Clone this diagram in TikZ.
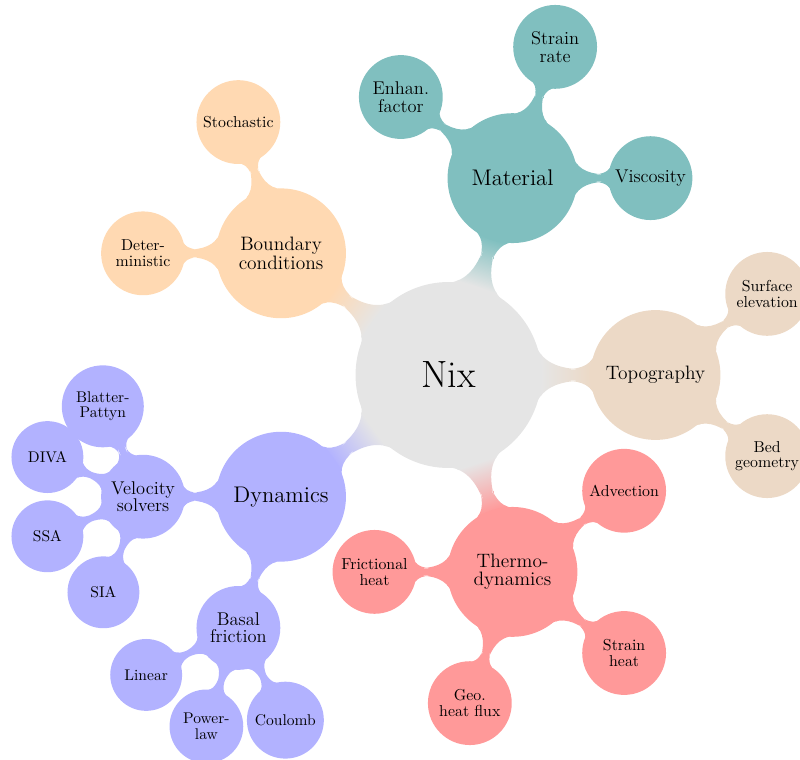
\documentclass[tikz,border=0pt]{standalone}
\usepackage{tikz}
\usetikzlibrary{mindmap,calc,backgrounds}

\tikzset{
    nixconcept/.style={concept, text width={}, inner sep=1pt, align=center},
    nixroot/.style={nixconcept, minimum size=4cm, font=\fontsize{23.5}{26}\selectfont},
    topic/.style={nixconcept, minimum size=2.78cm, font=\fontsize{12}{11.5}\selectfont},
    bigtopic/.style={topic, font=\fontsize{14}{16}\selectfont},
    subtopic/.style={nixconcept, minimum size=1.78cm, font=\fontsize{9.8}{9.8}\selectfont},
    bigsub/.style={subtopic, font=\fontsize{11.4}{10.8}\selectfont},
    leaf/.style={nixconcept, minimum size=1.52cm, font=\fontsize{9.6}{9.4}\selectfont},
    conbar/.style 2 args={circle connection bar switch color=from (#1) to (#2)}
}

\begin{document}
\begin{tikzpicture}[mindmap]
    \useasboundingbox (-9.75,-8.348) rectangle (7.641,8.152);

    % Root and first level
    \node[concept color=gray!20, nixroot] (nix) at (0,0) {Nix};
    \node[concept color=teal!50, bigtopic] (material) at (72:4.5) {Material};
    \node[concept color=brown!30, topic] (topo) at (0:4.5) {Topography};
    \node[concept color=red!40, topic] (thermo) at (-72:4.5) {Thermo-\\dynamics};
    \node[concept color=blue!30, bigtopic] (dynamics) at (-144:4.5) {Dynamics};
    \node[concept color=orange!30, topic] (boundary) at (144:4.5) {Boundary\\conditions};

    % Material
    \node[concept color=teal!50, bigsub] (strainrate) at ($(material)+(72:3)$) {Strain\\rate};
    \node[concept color=teal!50, bigsub] (viscosity) at ($(material)+(0:3)$) {Viscosity};
    \node[concept color=teal!50, bigsub] (enhfactor) at ($(material)+(144:3)$) {Enhan.\\factor};

    % Topography
    \node[concept color=brown!30, subtopic] (surfelev) at ($(topo)+(36:3)$) {Surface\\elevation};
    \node[concept color=brown!30, subtopic] (bedgeom) at ($(topo)+(-36:3)$) {Bed\\geometry};

    % Thermodynamics
    \node[concept color=red!40, subtopic] (advection) at ($(thermo)+(36:3)$) {Advection};
    \node[concept color=red!40, subtopic] (strainheat) at ($(thermo)+(-36:3)$) {Strain\\heat};
    \node[concept color=red!40, subtopic] (geoflux) at ($(thermo)+(-108:3)$) {Geo.\\heat flux};
    \node[concept color=red!40, subtopic] (frictheat) at ($(thermo)+(180:3)$) {Frictional\\heat};

    % Dynamics
    \node[concept color=blue!30, bigsub] (velsolvers) at ($(dynamics)+(180:3)$) {Velocity\\solvers};
    \node[concept color=blue!30, bigsub] (basal) at ($(dynamics)+(252:3)$) {Basal\\friction};
    \node[concept color=blue!30, leaf, minimum size=1.74cm] (blatter) at ($(velsolvers)+(114:2.15)$) {Blatter-\\Pattyn};
    \node[concept color=blue!30, leaf] (diva) at ($(velsolvers)+(157.5:2.25)$) {DIVA};
    \node[concept color=blue!30, leaf] (ssa) at ($(velsolvers)+(202.5:2.25)$) {SSA};
    \node[concept color=blue!30, leaf] (sia) at ($(velsolvers)+(247.5:2.25)$) {SIA};
    \node[concept color=blue!30, leaf] (linear) at ($(basal)+(207:2.25)$) {Linear};
    \node[concept color=blue!30, leaf, minimum size=1.56cm] (powerlaw) at ($(basal)+(252:2.25)$) {Power-\\law};
    \node[concept color=blue!30, leaf, minimum size=1.63cm] (coulomb) at ($(basal)+(297:2.25)$) {Coulomb};

    % Boundary conditions
    \node[concept color=orange!30, subtopic] (stochastic) at ($(boundary)+(108:3)$) {Stochastic};
    \node[concept color=orange!30, subtopic] (determ) at ($(boundary)+(180:3)$) {Deter-\\ministic};

    \begin{scope}[on background layer]
        \path (nix) to[conbar={gray!20}{teal!50}] (material);
        \path (nix) to[conbar={gray!20}{brown!30}] (topo);
        \path (nix) to[conbar={gray!20}{red!40}] (thermo);
        \path (nix) to[conbar={gray!20}{blue!30}] (dynamics);
        \path (nix) to[conbar={gray!20}{orange!30}] (boundary);

        \foreach \to in {strainrate,viscosity,enhfactor}
            \path (material) to[conbar={teal!50}{teal!50}] (\to);
        \foreach \to in {surfelev,bedgeom}
            \path (topo) to[conbar={brown!30}{brown!30}] (\to);
        \foreach \to in {advection,strainheat,geoflux,frictheat}
            \path (thermo) to[conbar={red!40}{red!40}] (\to);
        \foreach \to in {velsolvers,basal}
            \path (dynamics) to[conbar={blue!30}{blue!30}] (\to);
        \foreach \to in {blatter,diva,ssa,sia}
            \path (velsolvers) to[conbar={blue!30}{blue!30}] (\to);
        \foreach \to in {linear,powerlaw,coulomb}
            \path (basal) to[conbar={blue!30}{blue!30}] (\to);
        \foreach \to in {stochastic,determ}
            \path (boundary) to[conbar={orange!30}{orange!30}] (\to);
    \end{scope}
\end{tikzpicture}
\end{document}
